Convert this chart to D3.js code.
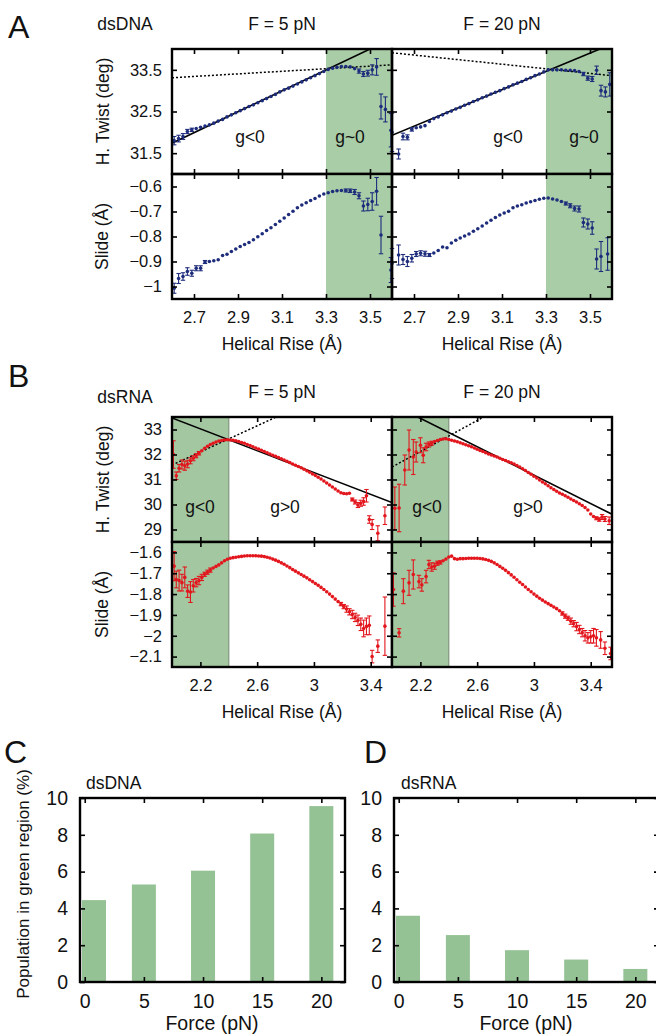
<!DOCTYPE html>
<html lang="en">
<head>
<meta charset="UTF-8">
<title>Helical rise vs twist and slide</title>
<script src="https://d3js.org/d3.v7.min.js"></script>
<style>
  body { margin: 0; background: #fff; }
  svg { display: block; font-family: "Liberation Sans", Arial, Helvetica, sans-serif; }
  .frame { fill: none; stroke: #000; stroke-width: 2.4px; }
  .tick line { stroke: #000; stroke-width: 1.6px; }
  .tick text { fill: #111; }
  text { fill: #111; }
</style>
</head>
<body>
<script>
// ---- data: [helical rise (Å), value, error] ----
const dnaTwist5 = [[2.61,31.80,.10],[2.63,31.85,.08],[2.65,31.90,.07],[2.67,32.02,.05],[2.69,32.06,.04],[2.71,32.09,.03],[2.73,32.12,.03],[2.75,32.15,.02],[2.77,32.18,.02],[2.79,32.22,.02],[2.81,32.27,.02],[2.83,32.31,.02],[2.85,32.37,.015],[2.87,32.42,.015],[2.89,32.47,.01],[2.91,32.52,.01],[2.93,32.57,.01],[2.95,32.62,.01],[2.97,32.66,.01],[2.99,32.71,.01],[3.01,32.76,.01],[3.03,32.81,.01],[3.05,32.86,.01],[3.07,32.91,.01],[3.09,32.97,.01],[3.11,33.02,.01],[3.13,33.06,.01],[3.15,33.11,.01],[3.17,33.16,.01],[3.19,33.21,.01],[3.21,33.26,.01],[3.23,33.31,.01],[3.25,33.36,.01],[3.27,33.41,.01],[3.29,33.46,.01],[3.31,33.51,.01],[3.33,33.54,.01],[3.35,33.56,.01],[3.37,33.58,.015],[3.39,33.58,.015],[3.41,33.57,.02],[3.43,33.53,.03],[3.45,33.47,.05],[3.47,33.40,.06],[3.49,33.42,.07],[3.51,33.50,.12],[3.53,33.57,.2],[3.55,32.62,.3],[3.57,32.55,.3],[3.595,32.05,.4]];
const dnaTwist20 = [[2.60,32.00,.46],[2.63,31.48,.12],[2.65,31.90,.08],[2.67,31.88,.06],[2.69,32.07,.04],[2.71,32.11,.03],[2.73,32.13,.03],[2.75,32.16,.03],[2.77,32.26,.02],[2.79,32.33,.02],[2.81,32.37,.02],[2.83,32.42,.02],[2.85,32.47,.015],[2.87,32.51,.015],[2.89,32.56,.01],[2.91,32.60,.01],[2.93,32.65,.01],[2.95,32.69,.01],[2.97,32.74,.01],[2.99,32.78,.01],[3.01,32.83,.01],[3.03,32.87,.01],[3.05,32.92,.01],[3.07,32.96,.01],[3.09,33.00,.01],[3.11,33.05,.01],[3.13,33.09,.01],[3.15,33.14,.01],[3.17,33.18,.01],[3.19,33.22,.01],[3.21,33.27,.01],[3.23,33.31,.01],[3.25,33.36,.01],[3.27,33.40,.01],[3.29,33.45,.01],[3.31,33.50,.01],[3.33,33.50,.01],[3.35,33.50,.01],[3.37,33.50,.01],[3.39,33.49,.01],[3.41,33.49,.015],[3.43,33.48,.02],[3.45,33.46,.03],[3.47,33.40,.04],[3.49,33.30,.05],[3.51,33.28,.06],[3.53,33.49,.1],[3.55,33.00,.13],[3.57,32.97,.12],[3.59,33.15,.28]];
const dnaSlide5 = [[2.61,-1.007,.02],[2.63,-0.968,.02],[2.65,-0.960,.015],[2.67,-0.940,.015],[2.69,-0.947,.012],[2.71,-0.927,.01],[2.73,-0.927,.01],[2.75,-0.902,.006],[2.77,-0.900,.005],[2.79,-0.897,.005],[2.81,-0.893,.004],[2.83,-0.876,.004],[2.85,-0.871,.004],[2.87,-0.860,.003],[2.89,-0.850,.003],[2.91,-0.840,.003],[2.93,-0.832,.003],[2.95,-0.824,.003],[2.97,-0.813,.003],[2.99,-0.801,.003],[3.01,-0.789,.003],[3.03,-0.776,.003],[3.05,-0.765,.003],[3.07,-0.752,.003],[3.09,-0.739,.003],[3.11,-0.726,.003],[3.13,-0.712,.003],[3.15,-0.699,.003],[3.17,-0.685,.003],[3.19,-0.674,.003],[3.21,-0.665,.003],[3.23,-0.656,.003],[3.25,-0.648,.003],[3.27,-0.638,.003],[3.29,-0.630,.003],[3.31,-0.625,.003],[3.33,-0.620,.004],[3.35,-0.617,.004],[3.37,-0.616,.005],[3.39,-0.616,.006],[3.41,-0.617,.007],[3.43,-0.622,.01],[3.45,-0.637,.012],[3.47,-0.678,.02],[3.49,-0.672,.025],[3.51,-0.660,.035],[3.53,-0.619,.055],[3.55,-0.794,.075],[3.595,-0.934,.05]];
const dnaSlide20 = [[2.60,-0.908,.06],[2.63,-0.874,.04],[2.65,-0.892,.02],[2.67,-0.900,.02],[2.69,-0.887,.015],[2.71,-0.870,.01],[2.73,-0.867,.01],[2.75,-0.869,.01],[2.77,-0.874,.006],[2.79,-0.866,.005],[2.81,-0.856,.005],[2.83,-0.842,.004],[2.85,-0.845,.004],[2.87,-0.826,.004],[2.89,-0.815,.003],[2.91,-0.806,.003],[2.93,-0.798,.003],[2.95,-0.790,.003],[2.97,-0.779,.003],[2.99,-0.769,.003],[3.01,-0.758,.003],[3.03,-0.746,.003],[3.05,-0.735,.003],[3.07,-0.724,.003],[3.09,-0.714,.003],[3.11,-0.706,.003],[3.13,-0.699,.003],[3.15,-0.685,.003],[3.17,-0.678,.003],[3.19,-0.673,.003],[3.21,-0.666,.003],[3.23,-0.661,.003],[3.25,-0.656,.003],[3.27,-0.651,.003],[3.29,-0.647,.003],[3.31,-0.646,.003],[3.33,-0.650,.004],[3.35,-0.654,.004],[3.37,-0.660,.005],[3.39,-0.668,.006],[3.41,-0.677,.008],[3.43,-0.688,.01],[3.45,-0.690,.012],[3.47,-0.744,.018],[3.49,-0.750,.02],[3.51,-0.766,.025],[3.53,-0.890,.04],[3.55,-0.880,.06],[3.58,-0.870,.065]];

const rnaTwist5 = [[2.01,32.00,.55],[2.03,31.15,.15],[2.05,31.45,.15],[2.07,31.60,.18],[2.09,31.55,.18],[2.11,31.62,.15],[2.13,31.75,.12],[2.15,31.85,.10],[2.17,31.95,.08],[2.19,32.05,.07],[2.21,32.15,.05],[2.23,32.25,.04],[2.25,32.33,.03],[2.27,32.40,.03],[2.29,32.45,.02],[2.31,32.50,.02],[2.33,32.54,.015],[2.35,32.56,.015],[2.37,32.58,.01],[2.39,32.59,.01],[2.41,32.58,.01],[2.43,32.57,.01],[2.45,32.55,.01],[2.47,32.52,.01],[2.49,32.48,.01],[2.51,32.45,.01],[2.53,32.40,.01],[2.55,32.36,.01],[2.57,32.31,.01],[2.59,32.26,.01],[2.61,32.22,.01],[2.63,32.17,.01],[2.65,32.12,.01],[2.67,32.07,.01],[2.69,32.02,.01],[2.71,31.97,.01],[2.73,31.93,.01],[2.75,31.88,.01],[2.77,31.83,.01],[2.79,31.78,.01],[2.81,31.73,.01],[2.83,31.68,.01],[2.85,31.62,.01],[2.87,31.57,.01],[2.89,31.52,.01],[2.91,31.47,.01],[2.93,31.41,.01],[2.95,31.35,.01],[2.97,31.29,.01],[2.99,31.22,.01],[3.01,31.16,.01],[3.03,31.09,.01],[3.05,31.02,.01],[3.07,30.94,.01],[3.09,30.86,.01],[3.11,30.78,.01],[3.13,30.70,.01],[3.15,30.62,.015],[3.17,30.54,.015],[3.19,30.47,.02],[3.21,30.44,.02],[3.23,30.43,.03],[3.25,30.45,.04],[3.27,30.20,.06],[3.29,30.10,.08],[3.31,29.98,.1],[3.33,30.05,.12],[3.35,30.12,.15],[3.37,30.35,.25],[3.39,29.40,.15],[3.41,29.20,.2],[3.45,28.85,.3],[3.50,29.55,.35]];
const rnaTwist20 = [[2.02,29.85,.85],[2.05,29.86,.95],[2.09,31.38,.6],[2.12,32.18,.8],[2.15,31.90,.7],[2.17,32.10,.4],[2.20,32.37,.3],[2.22,31.97,.3],[2.24,32.30,.15],[2.26,32.40,.1],[2.28,32.45,.08],[2.30,32.52,.05],[2.32,32.56,.04],[2.34,32.60,.03],[2.36,32.62,.02],[2.38,32.63,.015],[2.40,32.60,.01],[2.42,32.57,.01],[2.44,32.54,.01],[2.46,32.51,.01],[2.48,32.47,.01],[2.50,32.43,.01],[2.52,32.39,.01],[2.54,32.35,.01],[2.56,32.31,.01],[2.58,32.26,.01],[2.60,32.21,.01],[2.62,32.16,.01],[2.64,32.12,.01],[2.66,32.07,.01],[2.68,32.02,.01],[2.70,31.98,.01],[2.72,31.94,.01],[2.74,31.90,.01],[2.76,31.85,.01],[2.78,31.80,.01],[2.80,31.76,.01],[2.82,31.71,.01],[2.84,31.67,.01],[2.86,31.62,.01],[2.88,31.56,.01],[2.90,31.50,.01],[2.92,31.43,.01],[2.94,31.36,.01],[2.96,31.28,.01],[2.98,31.21,.01],[3.00,31.13,.01],[3.02,31.06,.01],[3.04,30.98,.01],[3.06,30.90,.01],[3.08,30.83,.01],[3.10,30.75,.01],[3.12,30.67,.01],[3.14,30.60,.01],[3.16,30.53,.01],[3.18,30.46,.01],[3.20,30.41,.015],[3.22,30.35,.015],[3.24,30.29,.015],[3.26,30.22,.02],[3.28,30.16,.02],[3.30,30.10,.02],[3.32,30.03,.025],[3.34,29.96,.025],[3.36,29.88,.03],[3.38,29.78,.03],[3.40,29.62,.04],[3.42,29.52,.05],[3.44,29.45,.06],[3.46,29.40,.07],[3.48,29.50,.1],[3.50,29.42,.1],[3.53,29.35,.15]];
const rnaSlide5 = [[2.015,-1.666,.07],[2.03,-1.730,.04],[2.05,-1.735,.05],[2.07,-1.745,.04],[2.09,-1.720,.05],[2.11,-1.786,.03],[2.13,-1.790,.05],[2.15,-1.760,.03],[2.17,-1.745,.02],[2.19,-1.735,.02],[2.21,-1.720,.015],[2.23,-1.705,.01],[2.25,-1.695,.01],[2.27,-1.685,.01],[2.29,-1.675,.006],[2.31,-1.667,.005],[2.33,-1.660,.005],[2.35,-1.650,.004],[2.37,-1.640,.004],[2.39,-1.633,.004],[2.41,-1.628,.003],[2.43,-1.625,.003],[2.45,-1.623,.003],[2.47,-1.621,.003],[2.49,-1.619,.003],[2.51,-1.617,.003],[2.53,-1.616,.003],[2.55,-1.616,.003],[2.57,-1.616,.003],[2.59,-1.616,.003],[2.61,-1.617,.003],[2.63,-1.618,.003],[2.65,-1.620,.003],[2.67,-1.623,.003],[2.69,-1.627,.003],[2.71,-1.632,.003],[2.73,-1.637,.003],[2.75,-1.643,.003],[2.77,-1.650,.003],[2.79,-1.657,.003],[2.81,-1.665,.003],[2.83,-1.673,.003],[2.85,-1.682,.003],[2.87,-1.690,.003],[2.89,-1.698,.003],[2.91,-1.706,.003],[2.93,-1.714,.003],[2.95,-1.722,.003],[2.97,-1.731,.003],[2.99,-1.740,.003],[3.01,-1.749,.003],[3.03,-1.758,.003],[3.05,-1.768,.003],[3.07,-1.778,.004],[3.09,-1.789,.004],[3.11,-1.800,.005],[3.13,-1.812,.005],[3.15,-1.824,.006],[3.17,-1.836,.007],[3.19,-1.848,.008],[3.21,-1.860,.01],[3.23,-1.872,.015],[3.25,-1.885,.015],[3.27,-1.898,.02],[3.29,-1.912,.02],[3.31,-1.926,.025],[3.33,-1.945,.03],[3.35,-1.965,.04],[3.37,-1.955,.04],[3.39,-1.950,.045],[3.41,-2.100,.03],[3.45,-2.050,.03],[3.50,-1.954,.14]];
const rnaSlide20 = [[2.01,-1.778,.08],[2.05,-1.986,.02],[2.08,-1.786,.06],[2.12,-1.746,.06],[2.15,-1.706,.07],[2.19,-1.740,.03],[2.21,-1.756,.03],[2.24,-1.716,.03],[2.26,-1.658,.02],[2.28,-1.670,.02],[2.30,-1.666,.015],[2.32,-1.652,.01],[2.34,-1.648,.008],[2.36,-1.640,.006],[2.38,-1.632,.005],[2.40,-1.622,.005],[2.42,-1.618,.004],[2.44,-1.630,.004],[2.46,-1.633,.003],[2.48,-1.630,.003],[2.50,-1.630,.003],[2.52,-1.629,.003],[2.54,-1.628,.003],[2.56,-1.628,.003],[2.58,-1.628,.003],[2.60,-1.628,.003],[2.62,-1.629,.003],[2.64,-1.631,.003],[2.66,-1.634,.003],[2.68,-1.638,.003],[2.70,-1.643,.003],[2.72,-1.650,.003],[2.74,-1.658,.003],[2.76,-1.667,.003],[2.78,-1.676,.003],[2.80,-1.686,.003],[2.82,-1.697,.003],[2.84,-1.708,.003],[2.86,-1.719,.003],[2.88,-1.731,.003],[2.90,-1.743,.003],[2.92,-1.754,.003],[2.94,-1.766,.003],[2.96,-1.778,.003],[2.98,-1.789,.003],[3.00,-1.800,.003],[3.02,-1.810,.003],[3.04,-1.820,.004],[3.06,-1.829,.004],[3.08,-1.838,.004],[3.10,-1.846,.005],[3.12,-1.854,.005],[3.14,-1.862,.006],[3.16,-1.870,.006],[3.18,-1.880,.007],[3.20,-1.893,.008],[3.22,-1.906,.01],[3.24,-1.916,.01],[3.26,-1.930,.015],[3.28,-1.942,.015],[3.30,-1.956,.02],[3.32,-1.970,.02],[3.34,-1.985,.02],[3.36,-2.000,.025],[3.38,-2.010,.025],[3.40,-2.005,.03],[3.42,-2.000,.035],[3.44,-2.010,.04],[3.47,-2.020,.04],[3.50,-2.060,.03],[3.54,-2.085,.03]];

// fitted lines (two end points each, in data units)
const dnaFit5 = { solid: [[2.6,31.74],[3.6,34.25]], dotted: [[2.6,33.31],[3.6,33.62]] };
const dnaFit20 = { solid: [[2.6,31.93],[3.6,34.12]], dotted: [[2.6,33.91],[3.6,33.36]] };
const rnaFit5 = { solid: [[2.0,33.46],[3.55,30.08]], dotted: [[2.0,31.58],[2.8,33.67]] };
const rnaFit20 = { solid: [[2.1,33.73],[3.55,29.61]], dotted: [[2.0,31.5],[2.7,33.67]] };

// green (g~0 / g<0) regions
const dnaGreen = [3.3, 3.6];
const rnaGreen = [2.0, 2.4];

// axis ranges and ticks
const dnaRiseDomain = [2.6, 3.6], dnaRiseTicks = [2.7, 2.9, 3.1, 3.3, 3.5];
const dnaTwistDomain = [31, 34], dnaTwistTicks = [31.5, 32.5, 33.5];
const dnaSlideDomain = [-1.05, -0.55], dnaSlideTicks = [-1, -0.9, -0.8, -0.7, -0.6];
const rnaRiseDomain = [2.0, 3.55], rnaRiseTicks = [2.2, 2.6, 3, 3.4];
const rnaTwistDomain = [28.5, 33.5], rnaTwistTicks = [29, 30, 31, 32, 33];
const rnaSlideDomain = [-2.15, -1.55], rnaSlideTicks = [-2.1, -2, -1.9, -1.8, -1.7, -1.6];

// bar charts: population in green region (%)
const forces = [0, 5, 10, 15, 20];
const dnaPopulation = [4.45, 5.3, 6.05, 8.07, 9.56];
const rnaPopulation = [3.6, 2.55, 1.73, 1.22, 0.71];
const popTicks = [0, 2, 4, 6, 8, 10];

// ---- drawing ----
const svg = d3.select("body").append("svg").attr("width", 656).attr("height", 1036);
const defs = svg.append("defs");
const fmt = d3.format("~g");
let nClip = 0;

function text(str, x, y, size, anchor, rotate) {
    const t = svg.append("text").attr("font-size", size).attr("text-anchor", anchor || "middle").text(str);
    if (rotate) t.attr("transform", `translate(${x},${y}) rotate(-90)`);
    else t.attr("x", x).attr("y", y);
    return t;
}

function sideTicks(g, o, x, y) {
    const tickFont = o.tickFont || 16.5;
    const bottom = g.append("g").attr("transform", `translate(0,${o.bottom})`)
        .call(d3.axisBottom(x).tickValues(o.xTicks).tickSize(-5).tickPadding(o.xPad || 12)
            .tickFormat(o.xLabels ? fmt : ""));
    const top = g.append("g").attr("transform", `translate(0,${o.top})`)
        .call(d3.axisTop(x).tickValues(o.xTicks).tickSize(-5).tickFormat(""));
    const left = g.append("g").attr("transform", `translate(${o.left},0)`)
        .call(d3.axisLeft(y).tickValues(o.yTicks).tickSize(-5).tickPadding(o.yPad || 10)
            .tickFormat(o.yLabels ? fmt : ""));
    const right = g.append("g").attr("transform", `translate(${o.right},0)`)
        .call(d3.axisRight(y).tickValues(o.yTicks).tickSize(-5).tickFormat(""));
    [bottom, top, left, right].forEach(a => {
        a.select(".domain").remove();
        a.attr("font-size", tickFont).attr("font-family", null);
    });
}

function scatterPanel(o) {
    const x = d3.scaleLinear().domain(o.xDomain).range([o.left, o.right]);
    const y = d3.scaleLinear().domain(o.yDomain).range([o.bottom, o.top]);
    const id = "clip" + (nClip++);
    defs.append("clipPath").attr("id", id).append("rect")
        .attr("x", o.left).attr("y", o.top)
        .attr("width", o.right - o.left).attr("height", o.bottom - o.top);

    const g = svg.append("g");
    const body = g.append("g").attr("clip-path", `url(#${id})`);

    // shaded region
    body.append("rect")
        .attr("x", x(o.green[0])).attr("y", o.top)
        .attr("width", x(o.green[1]) - x(o.green[0])).attr("height", o.bottom - o.top)
        .attr("fill", o.greenFill);
    if (o.greenEdge) {
        body.append("line")
            .attr("x1", x(o.greenEdge)).attr("x2", x(o.greenEdge))
            .attr("y1", o.top).attr("y2", o.bottom)
            .attr("stroke", "#7f957e").attr("stroke-width", 1.2);
    }

    // fitted lines
    if (o.fit) {
        const line = d3.line().x(d => x(d[0])).y(d => y(d[1]));
        body.append("path").attr("d", line(o.fit.dotted))
            .attr("fill", "none").attr("stroke", "#000").attr("stroke-width", 1.5)
            .attr("stroke-dasharray", "2,2");
        body.append("path").attr("d", line(o.fit.solid))
            .attr("fill", "none").attr("stroke", "#000").attr("stroke-width", 1.6);
    }

    // error bars
    const bars = g.append("g").attr("stroke", o.color).attr("stroke-width", 1.1);
    o.data.forEach(d => {
        if (d[2] < 0.012 * (o.yDomain[1] - o.yDomain[0])) return;
        const cx = x(d[0]), y1 = y(d[1] - d[2]), y2 = y(d[1] + d[2]);
        bars.append("line").attr("x1", cx).attr("x2", cx).attr("y1", y1).attr("y2", y2);
        bars.append("line").attr("x1", cx - 2.2).attr("x2", cx + 2.2).attr("y1", y1).attr("y2", y1);
        bars.append("line").attr("x1", cx - 2.2).attr("x2", cx + 2.2).attr("y1", y2).attr("y2", y2);
    });
    g.append("g").selectAll("circle").data(o.data).join("circle")
        .attr("cx", d => x(d[0])).attr("cy", d => y(d[1])).attr("r", 1.8)
        .attr("fill", o.color);

    sideTicks(g, o, x, y);

    g.append("rect").attr("class", "frame")
        .attr("x", o.left).attr("y", o.top)
        .attr("width", o.right - o.left).attr("height", o.bottom - o.top);
}

const cols = [{ left: 172, right: 392 }, { left: 392, right: 612 }];
const dnaColor = "#1e2c7c", rnaColor = "#e3161d";
const greenA = "#a9cda7", greenB = "#a3c7a0";

// ---- panel A: dsDNA ----
[[dnaTwist5, dnaSlide5, dnaFit5], [dnaTwist20, dnaSlide20, dnaFit20]].forEach((s, i) => {
    const c = cols[i];
    scatterPanel({ ...c, top: 49, bottom: 174, xDomain: dnaRiseDomain, yDomain: dnaTwistDomain,
        xTicks: dnaRiseTicks, yTicks: dnaTwistTicks, xLabels: false, yLabels: i === 0,
        green: dnaGreen, greenFill: greenA, fit: s[2], data: s[0], color: dnaColor });
    scatterPanel({ ...c, top: 174, bottom: 299, xDomain: dnaRiseDomain, yDomain: dnaSlideDomain,
        xTicks: dnaRiseTicks, yTicks: dnaSlideTicks, xLabels: true, yLabels: i === 0,
        green: dnaGreen, greenFill: greenA, data: s[1], color: dnaColor });
});

// ---- panel B: dsRNA ----
[[rnaTwist5, rnaSlide5, rnaFit5], [rnaTwist20, rnaSlide20, rnaFit20]].forEach((s, i) => {
    const c = cols[i];
    scatterPanel({ ...c, top: 417, bottom: 542, xDomain: rnaRiseDomain, yDomain: rnaTwistDomain,
        xTicks: rnaRiseTicks, yTicks: rnaTwistTicks, xLabels: false, yLabels: i === 0,
        green: rnaGreen, greenFill: greenB, greenEdge: rnaGreen[1], fit: s[2], data: s[0], color: rnaColor });
    scatterPanel({ ...c, top: 542, bottom: 667, xDomain: rnaRiseDomain, yDomain: rnaSlideDomain,
        xTicks: rnaRiseTicks, yTicks: rnaSlideTicks, xLabels: true, yLabels: i === 0,
        green: rnaGreen, greenFill: greenB, greenEdge: rnaGreen[1], data: s[1], color: rnaColor });
});

// ---- panels C and D: bars ----
function barPanel(o) {
    const x = d3.scaleLinear().domain([-0.4, 22]).range([o.left, o.right]);
    const y = d3.scaleLinear().domain([0, 10]).range([o.bottom, o.top]);
    const g = svg.append("g");
    const bw = 24;
    g.append("g").selectAll("rect").data(o.values).join("rect")
        .attr("x", (d, i) => Math.max(x(forces[i]) - bw / 2, o.left + 2))
        .attr("width", bw)
        .attr("y", d => y(d)).attr("height", d => o.bottom - y(d))
        .attr("fill", "#94c294");
    sideTicks(g, { ...o, xTicks: forces, yTicks: popTicks, xLabels: true, yLabels: true,
        tickFont: 19.5, xPad: 12, yPad: 12 }, x, y);
    g.append("rect").attr("class", "frame")
        .attr("x", o.left).attr("y", o.top)
        .attr("width", o.right - o.left).attr("height", o.bottom - o.top);
}
barPanel({ left: 80, right: 345, top: 798, bottom: 982, values: dnaPopulation });
barPanel({ left: 394, right: 659, top: 798, bottom: 982, values: rnaPopulation });

// ---- labels ----
text("A", 8, 38, 32, "start");
text("B", 8, 387, 32, "start");
text("C", 4, 763, 32, "start");
text("D", 364, 763, 32, "start");

text("dsDNA", 125, 30, 17.5);
text("F = 5 pN", 282, 30, 17.5);
text("F = 20 pN", 502, 30, 17.5);
text("dsRNA", 125, 403, 17.5);
text("F = 5 pN", 282, 398, 17.5);
text("F = 20 pN", 502, 398, 17.5);

text("H. Twist (deg)", 109, 111.5, 17.5, "middle", true);
text("Slide (Å)", 108, 236.5, 17.5, "middle", true);
text("H. Twist (deg)", 109, 479.5, 17.5, "middle", true);
text("Slide (Å)", 108, 604.5, 17.5, "middle", true);

text("Helical Rise (Å)", 282, 350, 17.5);
text("Helical Rise (Å)", 502, 350, 17.5);
text("Helical Rise (Å)", 282, 718, 17.5);
text("Helical Rise (Å)", 502, 718, 17.5);

text("g<0", 250, 143, 17.5);
text("g~0", 350, 143, 17.5);
text("g<0", 508, 143, 17.5);
text("g~0", 584, 143, 17.5);
text("g<0", 200, 513, 17.5);
text("g>0", 285, 513, 17.5);
text("g<0", 427, 513, 17.5);
text("g>0", 528, 513, 17.5);

text("dsDNA", 86, 789, 17.5, "start");
text("dsRNA", 401, 789, 17.5, "start");
text("Population in green region (%)", 29, 884, 17, "middle", true);
text("Force (pN)", 212, 1030, 19.5);
text("Force (pN)", 526, 1030, 19.5);
</script>
</body>
</html>
